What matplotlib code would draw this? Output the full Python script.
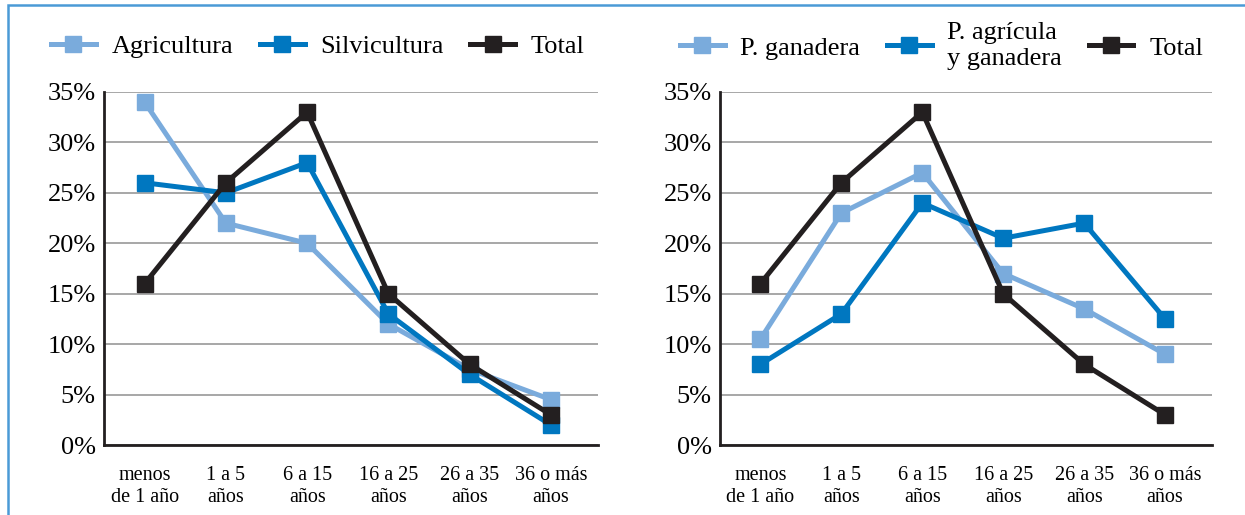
import matplotlib
matplotlib.use("Agg")
import matplotlib.pyplot as plt
from matplotlib.patches import Rectangle

plt.rcParams['font.family'] = ['Liberation Serif', 'DejaVu Serif']

categorias = ['menos\nde 1 año', '1 a 5\naños', '6 a 15\naños', '16 a 25\naños',
              '26 a 35\naños', '36 o más\naños']

# panel izquierdo
agricultura = [34, 22, 20, 12, 7.5, 4.5]
silvicultura = [26, 25, 28, 13, 7, 2]
total = [16, 26, 33, 15, 8, 3]

# panel derecho
p_ganadera = [10.5, 23, 27, 17, 13.5, 9]
p_agricola_ganadera = [8, 13, 24, 20.5, 22, 12.5]

c_light = '#7aabdc'
c_blue = '#0077c0'
c_black = '#231f20'

fig = plt.figure(figsize=(12.45, 5.15), dpi=100)
fig.patches.append(Rectangle((8/1245, -0.1), 1.2, 1 - 5/515 + 0.1, transform=fig.transFigure,
                             fill=False, edgecolor='#4a9ad6', lw=1.8))

ax1 = fig.add_axes([104/1245, 1 - 445/515, 494/1245, 353/515])
ax2 = fig.add_axes([720/1245, 1 - 445/515, 492/1245, 353/515])

def draw(ax, series, legend_x):
    x = range(len(categorias))
    for vals, col, lab in series:
        ax.plot(x, vals, color=col, lw=3.6, marker='s', ms=12, label=lab, solid_joinstyle='miter')
    ax.set_xlim(-0.5, 5.58)
    ax.set_ylim(0, 35)
    ax.set_yticks(range(0, 36, 5))
    ax.set_yticklabels([f'{v}%' for v in range(0, 36, 5)], fontsize=19)
    ax.set_xticks(list(x))
    ax.set_xticklabels(categorias, fontsize=14.5, linespacing=1.2)
    ax.tick_params(length=0, axis='both')
    ax.tick_params(axis='y', pad=6)
    ax.tick_params(axis='x', pad=15)
    ax.grid(axis='y', color='#a0a0a0', lw=1.3)
    ax.set_axisbelow(True)
    for s in ['top', 'right']:
        ax.spines[s].set_visible(False)
    for s in ['left', 'bottom']:
        ax.spines[s].set_color(c_black)
        ax.spines[s].set_linewidth(2)
    ax.legend(loc='center', bbox_to_anchor=(legend_x, 1.13), ncol=3, frameon=False,
              fontsize=19, handlelength=1.7, handletextpad=0.6, columnspacing=1.0)

draw(ax1, [(agricultura, c_light, 'Agricultura'),
           (silvicultura, c_blue, 'Silvicultura'),
           (total, c_black, 'Total')], 0.433)
draw(ax2, [(p_ganadera, c_light, 'P. ganadera'),
           (p_agricola_ganadera, c_blue, 'P. agrícula\ny ganadera'),
           (total, c_black, 'Total')], 0.45)

fig.savefig('out.png', dpi=100)
